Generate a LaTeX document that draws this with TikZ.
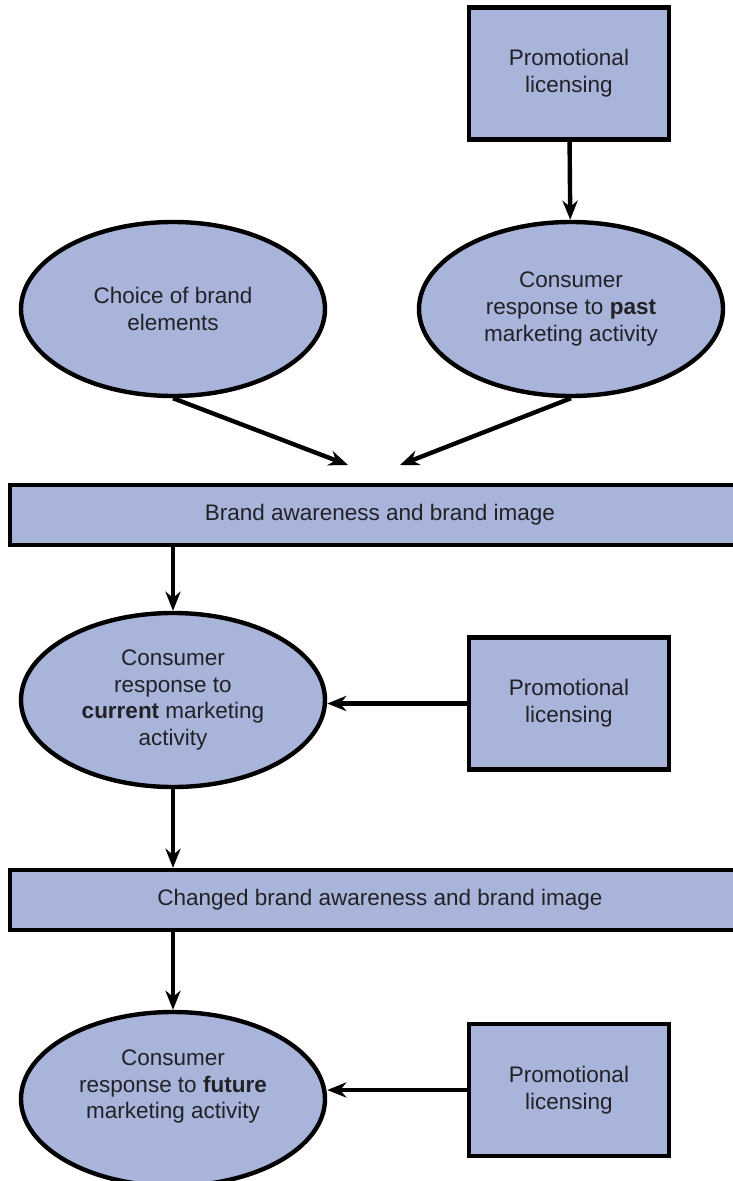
\documentclass[tikz,border=0pt]{standalone}
\usepackage{fontspec}
\setmainfont{Liberation Sans}
\usetikzlibrary{shapes, arrows.meta, positioning}
\definecolor{brandblue}{rgb}{0.658824, 0.705882, 0.854902}
\definecolor{inkgrey}{rgb}{0.13, 0.13, 0.15}

\begin{document}
\begin{tikzpicture}[x=0.25mm, y=-0.25mm,
        every node/.style={font=\fontsize{16}{19}\selectfont, align=center, text=inkgrey},
        oval/.style={draw, ellipse, line width=1.1mm, fill=brandblue, inner sep=0pt,
            minimum width=76mm, minimum height=43.5mm},
        licbox/.style={draw, rectangle, line width=1.1mm, fill=brandblue,
            minimum width=50mm, minimum height=33mm},
        bar/.style={draw, rectangle, line width=1.1mm, fill=brandblue,
            minimum width=185mm, minimum height=15mm},
        link/.style={-{Stealth[length=4.8mm, width=3.8mm]}, line width=1.1mm}]
    \useasboundingbox (0,0) rectangle (732,1181);

    % top row
    \node[licbox] (promoA) at (569,73.5) {Promotional\\licensing};
    \node[oval] (choice) at (173,309) {Choice of brand\\elements};
    \node[oval] (respPast) at (571,309) {Consumer\\response to \textbf{past}\\marketing activity};
    \coordinate (mergeL) at (348,465);
    \coordinate (mergeR) at (400,465);

    % middle
    \node[bar] (awareA) at (380,515) {Brand awareness and brand image};
    \node[oval] (respNow) at (173,700) {Consumer\\response to\\\textbf{current} marketing\\activity};
    \node[licbox] (promoB) at (569,703.5) {Promotional\\licensing};

    % bottom
    \node[bar] (awareB) at (380,900) {Changed brand awareness and brand image};
    \node[oval] (respFut) at (173,1099) {Consumer\\response to \textbf{future}\\marketing activity\\[2pt]};
    \node[licbox] (promoC) at (569,1090) {Promotional\\licensing};

    \draw[link] (promoA) -- (respPast);
    \draw[link] (choice.south) -- (mergeL);
    \draw[link] (respPast.south) -- (mergeR);
    \draw[link] (awareA.south -| respNow.north) -- (respNow.north);
    \draw[link] (promoB.west) -- (promoB.west -| respNow.east);
    \draw[link] (respNow.south) -- (awareB.north -| respNow.south);
    \draw[link] (awareB.south -| respFut.north) -- (respFut.north);
    \draw[link] (promoC.west) -- (promoC.west -| respFut.east);
\end{tikzpicture}
\end{document}
